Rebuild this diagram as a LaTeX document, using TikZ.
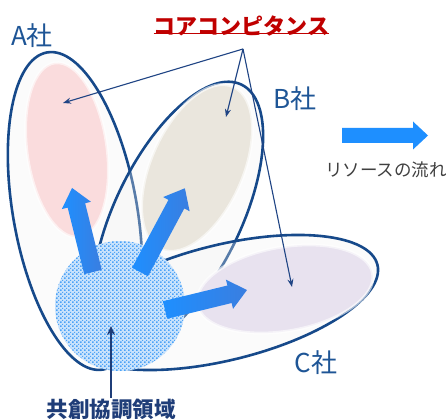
\documentclass[tikz,border=0pt]{standalone}
\usepackage{fontspec}
\setmainfont{Noto Sans CJK JP}
\usetikzlibrary{arrows.meta,patterns}
\definecolor{outl}{HTML}{16498A}
\definecolor{outerfill}{HTML}{F2F2F2}
\definecolor{pinkc}{HTML}{FADCDD}
\definecolor{beigec}{HTML}{EAE6DD}
\definecolor{lavc}{HTML}{E8E2EF}
\definecolor{arrA}{HTML}{1E8FFF}
\definecolor{arrB}{HTML}{3A7EE0}
\definecolor{callc}{HTML}{1F4484}
\definecolor{labc}{HTML}{1E5596}
\definecolor{navyc}{HTML}{1F3D78}
\definecolor{cred}{HTML}{C00000}
\definecolor{circfill}{HTML}{C9E3FC}
\definecolor{circdot}{HTML}{4CA2F6}
\pgfdeclarepatternformonly{weave}{\pgfqpoint{-0.1pt}{-0.1pt}}{\pgfqpoint{4.1pt}{4.1pt}}{\pgfqpoint{4pt}{4pt}}{%
  \pgfpathrectangle{\pgfqpoint{0pt}{0pt}}{\pgfqpoint{1.6pt}{1.6pt}}%
  \pgfpathrectangle{\pgfqpoint{2pt}{2pt}}{\pgfqpoint{1pt}{1pt}}%
  \pgfusepath{fill}}
\newcommand\blockarr[7]{%
  \begin{scope}[shift={(#1)},rotate=#2]
    \shade[left color=arrA,right color=#7] (0,-#4) -- (#3-#6,-#4) -- (#3-#6,-#5) -- (#3,0) -- (#3-#6,#5) -- (#3-#6,#4) -- (0,#4) -- cycle;
  \end{scope}}
\tikzset{
  outerell/.style={fill=outerfill, fill opacity=0.3, draw=outl, draw opacity=1, line width=2.6pt},
  softedge/.style={draw=white, draw opacity=0.6, line width=3pt},
  callout/.style={draw=callc, line width=1.1pt, -{Stealth[length=8pt,width=6pt]}},
  complabel/.style={text=labc, font=\fontsize{26}{30}\selectfont, inner sep=0pt}
}
\begin{document}
\begin{tikzpicture}[x=1pt,y=-1pt]
\useasboundingbox (0,0) rectangle (446,419);
\fill[white] (0,0) rectangle (446,419);
% A company
\path[outerell, rotate around={10:(75,211)}] (75,211) ellipse [x radius=62pt, y radius=161pt];
\path[fill=pinkc, softedge, rotate around={8:(67,150)}] (67,150) ellipse [x radius=40pt, y radius=88pt];
% B company
\path[outerell, rotate around={64:(178,215)}] (178,215) ellipse [x radius=145pt, y radius=63pt];
\path[fill=beigec, softedge, rotate around={66:(197,168)}] (197,168) ellipse [x radius=89pt, y radius=46pt];
% C company
\path[outerell, rotate around={13.8:(224,302.5)}] (224,302.5) ellipse [x radius=158pt, y radius=57.7pt];
\path[fill=lavc, softedge, rotate around={10:(285,289)}] (285,289) ellipse [x radius=89pt, y radius=42pt];
% co-creation circle
\fill[circfill] (120,306) circle [radius=65pt];
\fill[pattern=weave, pattern color=circdot] (120,306) circle [radius=65pt];
\coordinate (cc) at (112,326);
% block arrows
\blockarr{93,272}{104}{86.6}{9}{15}{18}{arrB}
\blockarr{140,272}{61.8}{95}{9}{15}{18}{arrB}
\blockarr{165,310}{13.7}{84.4}{9}{15}{18}{arrB}
\blockarr{342,135.5}{0}{86}{7.5}{14}{15}{arrA}
% callouts
\node[text=cred, font=\fontsize{22}{26}\selectfont\bfseries, inner sep=0pt] (core) at (241.5,26) {コアコンピタンス};
\draw[cred, line width=1.2pt] (core.south west) ++(0,-3) coordinate (ul1) -- (ul1 -| core.south east);
\coordinate (apex) at (243,49);
\coordinate (tA) at (63,103);
\coordinate (tB) at (226,117);
\coordinate (tC) at (292,287);
\draw[callout] (apex) -- (tA);
\draw[callout] (apex) -- (tB);
\draw[callout] (apex) -- (tC);
% labels
\node[complabel] (la) at (32,36) {A社};
\node[complabel] (lb) at (295,99) {B社};
\node[complabel] (lc) at (316,363) {C社};
\node[text=black!75, font=\fontsize{17.5}{20}\selectfont, anchor=west, inner sep=0pt] (flow) at (325,170) {リソースの流れ};
\node[text=navyc, font=\fontsize{21.5}{24}\selectfont\bfseries, inner sep=0pt] (kyo) at (111,409) {共創協調領域};
\draw[navyc, line width=2pt, -{Stealth[length=9pt,width=8pt]}] (kyo.north) ++(0,-1) coordinate (kb) -- (kb |- cc);
\end{tikzpicture}
\end{document}
